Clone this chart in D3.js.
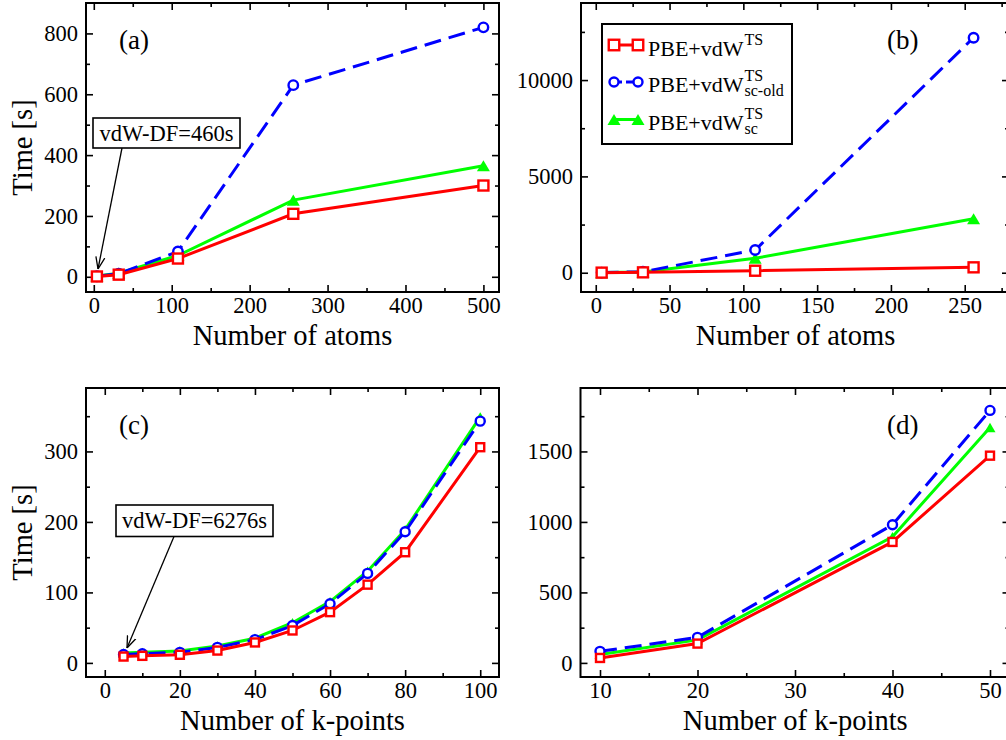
<!DOCTYPE html>
<html>
<head>
<meta charset="utf-8">
<script src="https://cdn.jsdelivr.net/npm/d3@7"></script>
<style>
  body { margin: 0; background: #fff; }
  svg { font-family: "Liberation Serif", "Times New Roman", serif; }
</style>
</head>
<body>
<svg id="chart" width="1006" height="740"></svg>
<script>
// panel (a): time vs number of atoms
const atomsA = [4, 32, 108, 256, 500];
const tsA = [1, 7, 60, 207, 300];
const scOldA = [2, 10, 83, 630, 820];
const scA = [3, 12, 70, 252, 365];

// panel (b)
const atomsB = [4, 32, 108, 256];
const tsB = [5, 20, 104, 280];
const scOldB = [8, 50, 1180, 12200];
const scB = [6, 40, 750, 2800];

// panel (c): time vs number of k-points
const kptsC = [5, 10, 20, 30, 40, 50, 60, 70, 80, 100];
const tsC = [9, 10, 11.5, 17.5, 29, 46, 72, 111, 157, 306];
const scOldC = [12, 13, 15, 22, 33, 53, 84, 127, 186, 343];
const scC = [14, 15, 17, 24, 35, 57, 87, 130, 189, 349];

// panel (d)
const kptsD = [10, 20, 40, 50];
const tsD = [35, 137, 858, 1470];
const scOldD = [82, 181, 980, 1791];
const scD = [60, 163, 895, 1670];

// ticks
const xMajA = [0, 100, 200, 300, 400, 500], xMinA = [50, 150, 250, 350, 450];
const yMajA = [0, 200, 400, 600, 800], yMinA = [100, 300, 500, 700];
const xMajB = [0, 50, 100, 150, 200, 250], xMinB = [25, 75, 125, 175, 225, 275];
const yMajB = [0, 5000, 10000], yMinB = [2500, 7500, 12500];
const xMajC = [0, 20, 40, 60, 80, 100], xMinC = [10, 30, 50, 70, 90];
const yMajC = [0, 100, 200, 300], yMinC = [50, 150, 250, 350];
const xMajD = [10, 20, 30, 40, 50], xMinD = [15, 25, 35, 45];
const yMajD = [0, 500, 1000, 1500], yMinD = [250, 750, 1250, 1750];

const RED = '#ff0000', BLUE = '#0000ff', GREEN = '#00ff00';

const svg = d3.select('#chart');

svg.append('defs').append('marker')
  .attr('id', 'arr')
  .attr('viewBox', '0 -6 12 12')
  .attr('refX', 12).attr('refY', 0)
  .attr('markerWidth', 12).attr('markerHeight', 12)
  .attr('markerUnits', 'userSpaceOnUse')
  .attr('orient', 'auto')
  .append('path')
  .attr('d', 'M0,-4.5L12,0L0,4.5')
  .attr('fill', 'none').attr('stroke', 'black').attr('stroke-width', 1.3);

function drawMarker(g, kind, cx, cy, s) {
  if (kind === 'square') {
    g.append('rect').attr('x', cx - s / 2).attr('y', cy - s / 2)
      .attr('width', s).attr('height', s)
      .attr('fill', 'white').attr('stroke', RED).attr('stroke-width', 2.4);
  } else if (kind === 'circle') {
    g.append('circle').attr('cx', cx).attr('cy', cy).attr('r', s / 2)
      .attr('fill', 'white').attr('stroke', BLUE).attr('stroke-width', 2.4);
  } else {
    const h = s * 0.85;
    g.append('path')
      .attr('d', `M${cx - s / 2},${cy + h / 2}L${cx + s / 2},${cy + h / 2}L${cx},${cy - h / 2}Z`)
      .attr('fill', GREEN);
  }
}

function panel(cfg) {
  const x = d3.scaleLinear().domain(cfg.xDom).range([cfg.left, cfg.right]);
  const y = d3.scaleLinear().domain(cfg.yDom).range([cfg.bottom, cfg.top]);
  const g = svg.append('g');

  const axes = [
    [d3.axisBottom(x), cfg.bottom, 'x', true],
    [d3.axisTop(x), cfg.top, 'x', false],
    [d3.axisLeft(y), cfg.left, 'y', true],
    [d3.axisRight(y), cfg.right, 'y', false]
  ];
  axes.forEach(([ax, pos, dir, labels]) => {
    const maj = dir === 'x' ? cfg.xMaj : cfg.yMaj;
    const min = dir === 'x' ? cfg.xMin : cfg.yMin;
    const tr = dir === 'x' ? `translate(0,${pos})` : `translate(${pos},0)`;
    const a1 = g.append('g').attr('transform', tr)
      .call(ax.tickValues(maj).tickSize(-7).tickSizeOuter(0)
        .tickPadding(dir === 'x' ? 5.5 : 8)
        .tickFormat(labels ? d3.format('d') : ''));
    a1.select('.domain').remove();
    a1.selectAll('line').attr('stroke-width', 1.6);
    a1.selectAll('text').attr('font-size', 22.5).attr('fill', 'black')
      .attr('font-family', '"Liberation Serif", serif');
    const a2 = g.append('g').attr('transform', tr)
      .call(ax.tickValues(min).tickSize(-4).tickSizeOuter(0).tickFormat(''));
    a2.select('.domain').remove();
    a2.selectAll('line').attr('stroke-width', 1.6);
  });

  g.append('rect')
    .attr('x', cfg.left).attr('y', cfg.top)
    .attr('width', cfg.right - cfg.left).attr('height', cfg.bottom - cfg.top)
    .attr('fill', 'none').attr('stroke', 'black').attr('stroke-width', 2);

  // axis titles
  g.append('text')
    .attr('x', (cfg.left + Math.min(cfg.right, 1006)) / 2 + (cfg.xtOff || 0))
    .attr('y', cfg.bottom + 52.5)
    .attr('text-anchor', 'middle').attr('font-size', 28.5)
    .text(cfg.xTitle);
  if (cfg.yTitle) {
    g.append('text')
      .attr('transform', `translate(32,${(cfg.top + cfg.bottom) / 2}) rotate(-90)`)
      .attr('text-anchor', 'middle').attr('font-size', 28.5)
      .text(cfg.yTitle);
  }

  g.append('text').attr('x', cfg.labX).attr('y', cfg.top + 46)
    .attr('font-size', 27).text(cfg.label);

  const line = d3.line().x(d => x(d[0])).y(d => y(d[1]));
  const series = [
    { v: cfg.sc, c: GREEN, dash: null, m: 'tri', s: cfg.triS },
    { v: cfg.scOld, c: BLUE, dash: '17,8', m: 'circle', s: cfg.cirS },
    { v: cfg.ts, c: RED, dash: null, m: 'square', s: cfg.sqS }
  ];
  series.forEach(se => {
    const pts = cfg.xs.map((d, i) => [d, se.v[i]]);
    g.append('path').attr('d', line(pts))
      .attr('fill', 'none').attr('stroke', se.c).attr('stroke-width', 3)
      .attr('stroke-dasharray', se.dash);
    pts.forEach(p => drawMarker(g, se.m, x(p[0]), y(p[1]), se.s));
  });

  if (cfg.note) {
    const n = cfg.note;
    g.append('line')
      .attr('x1', n.ax1).attr('y1', n.ay1).attr('x2', n.ax2).attr('y2', n.ay2)
      .attr('stroke', 'black').attr('stroke-width', 1.3)
      .attr('marker-end', 'url(#arr)');
    g.append('rect').attr('x', n.bx).attr('y', n.by).attr('width', n.bw).attr('height', n.bh)
      .attr('fill', 'white').attr('stroke', 'black').attr('stroke-width', 1.6);
    g.append('text').attr('x', n.bx + n.bw / 2).attr('y', n.by + 23)
      .attr('text-anchor', 'middle').attr('font-size', 22.5).text(n.text);
  }
}

panel({
  left: 86, right: 499, top: 3, bottom: 292,
  xDom: [-10, 520], yDom: [-50, 900],
  xMaj: xMajA, xMin: xMinA, yMaj: yMajA, yMin: yMinA,
  xs: atomsA, ts: tsA, scOld: scOldA, sc: scA,
  sqS: 10, cirS: 9.5, triS: 13,
  xTitle: 'Number of atoms', yTitle: 'Time [s]', label: '(a)', labX: 119,
  note: { bx: 93, by: 118, bw: 147, bh: 30, text: 'vdW-DF=460s', ax1: 122, ay1: 148, ax2: 98, ay2: 269 }
});
panel({
  left: 581, right: 1009, top: 3, bottom: 292,
  xDom: [-10, 280], yDom: [-1000, 14000],
  xMaj: xMajB, xMin: xMinB, yMaj: yMajB, yMin: yMinB,
  xs: atomsB, ts: tsB, scOld: scOldB, sc: scB,
  sqS: 10, cirS: 9.5, triS: 13,
  xTitle: 'Number of atoms', label: '(b)', labX: 887, xtOff: 2
});
panel({
  left: 86, right: 499, top: 388, bottom: 677,
  xDom: [-5, 105], yDom: [-20, 390],
  xMaj: xMajC, xMin: xMinC, yMaj: yMajC, yMin: yMinC,
  xs: kptsC, ts: tsC, scOld: scOldC, sc: scC,
  sqS: 8, cirS: 9, triS: 11,
  xTitle: 'Number of k-points', yTitle: 'Time [s]', label: '(c)', labX: 119,
  note: { bx: 116, by: 505, bw: 157, bh: 31.5, text: 'vdW-DF=6276s', ax1: 174, ay1: 536.5, ax2: 127, ay2: 648 }
});
panel({
  left: 580.5, right: 1009.5, top: 388, bottom: 677,
  xDom: [8, 52], yDom: [-100, 1950],
  xMaj: xMajD, xMin: xMinD, yMaj: yMajD, yMin: yMinD,
  xs: kptsD, ts: tsD, scOld: scOldD, sc: scD,
  sqS: 8, cirS: 9, triS: 11,
  xTitle: 'Number of k-points', label: '(d)', labX: 887, xtOff: 2
});

// legend in panel (b)
const legendNames = ['PBE+vdW', 'PBE+vdW', 'PBE+vdW'];
const legendSup = ['TS', 'TS', 'TS'];
const legendSub = ['', 'sc-old', 'sc'];
const legendKind = ['square', 'circle', 'tri'];
const legendColor = [RED, BLUE, GREEN];
const leg = svg.append('g');
leg.append('rect').attr('x', 602).attr('y', 24).attr('width', 190).attr('height', 120)
  .attr('fill', 'white').attr('stroke', 'black').attr('stroke-width', 2);
const rowY = [45, 82, 119.5];
const baseY = [56, 92, 130];
legendNames.forEach((nm, i) => {
  leg.append('line').attr('x1', 614).attr('x2', 638).attr('y1', rowY[i]).attr('y2', rowY[i])
    .attr('stroke', legendColor[i]).attr('stroke-width', 3)
    .attr('stroke-dasharray', i === 1 ? '8,4' : null);
  const sz = i === 0 ? 10.5 : (i === 1 ? 9 : 13);
  drawMarker(leg, legendKind[i], 614, rowY[i], sz);
  drawMarker(leg, legendKind[i], 638, rowY[i], sz);
  const t = leg.append('text').attr('x', 648).attr('y', baseY[i]).attr('font-size', 22).text(nm);
  const w = t.node().getComputedTextLength();
  leg.append('text').attr('x', 648 + w + 1).attr('y', baseY[i] - 11).attr('font-size', 16).text(legendSup[i]);
  if (legendSub[i]) {
    leg.append('text').attr('x', 648 + w + 1).attr('y', baseY[i] + 4).attr('font-size', 16).text(legendSub[i]);
  }
});
</script>
</body>
</html>
